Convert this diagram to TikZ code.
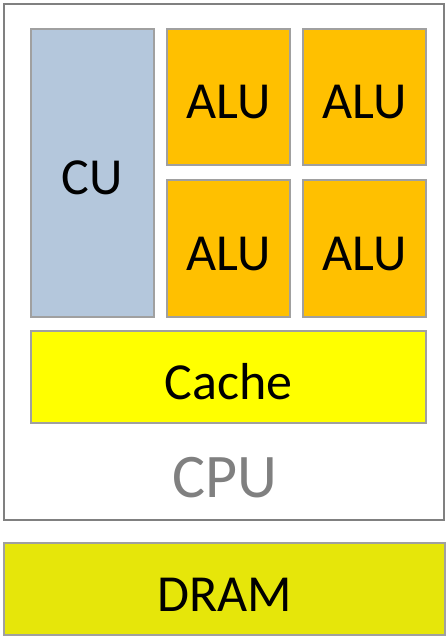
\documentclass[tikz,border=0pt]{standalone}
\usepackage{fontspec}
\setmainfont{Carlito}
\definecolor{cublue}{HTML}{B4C7DC}
\definecolor{aluorange}{HTML}{FFC000}
\definecolor{cacheyellow}{HTML}{FFFF00}
\definecolor{dramyellow}{HTML}{E6E60A}
\definecolor{edgegray}{HTML}{A0A0A0}
\definecolor{framegray}{HTML}{808080}
\begin{document}
\begin{tikzpicture}[x=1pt,y=-1pt,
  unit/.style={draw=edgegray,line width=1.2pt},
  lbl/.style={anchor=base,inner sep=0pt,font=\fontsize{52}{60}\selectfont,text=black}]
\useasboundingbox (0,0) rectangle (446,636);
% CPU frame
\draw[draw=framegray,line width=2pt] (4,4) rectangle (444,520);
\node[anchor=base,inner sep=0pt,text=framegray,font=\fontsize{62}{70}\selectfont] (cpu) at (225,497) {CPU};
% control unit
\draw[unit,fill=cublue] (31,29) rectangle (154,317);
\node[lbl] (cu) at (92.5,195) {CU};
% arithmetic units
\draw[unit,fill=aluorange] (167,29) rectangle (290,165);
\draw[unit,fill=aluorange] (303,29) rectangle (426,165);
\draw[unit,fill=aluorange] (167,180) rectangle (290,317);
\draw[unit,fill=aluorange] (303,180) rectangle (426,317);
\node[lbl] (alu1) at (228.5,119) {ALU};
\node[lbl] (alu2) at (364.5,119) {ALU};
\node[lbl] (alu3) at (228.5,270) {ALU};
\node[lbl] (alu4) at (364.5,270) {ALU};
% cache
\draw[unit,fill=cacheyellow] (31,331) rectangle (426,423);
\node[lbl] (cache) at (228.5,399) {Cache};
% main memory
\draw[unit,fill=dramyellow] (4,543) rectangle (445,635);
\node[lbl] (dram) at (224.5,611) {DRAM};
\end{tikzpicture}
\end{document}
